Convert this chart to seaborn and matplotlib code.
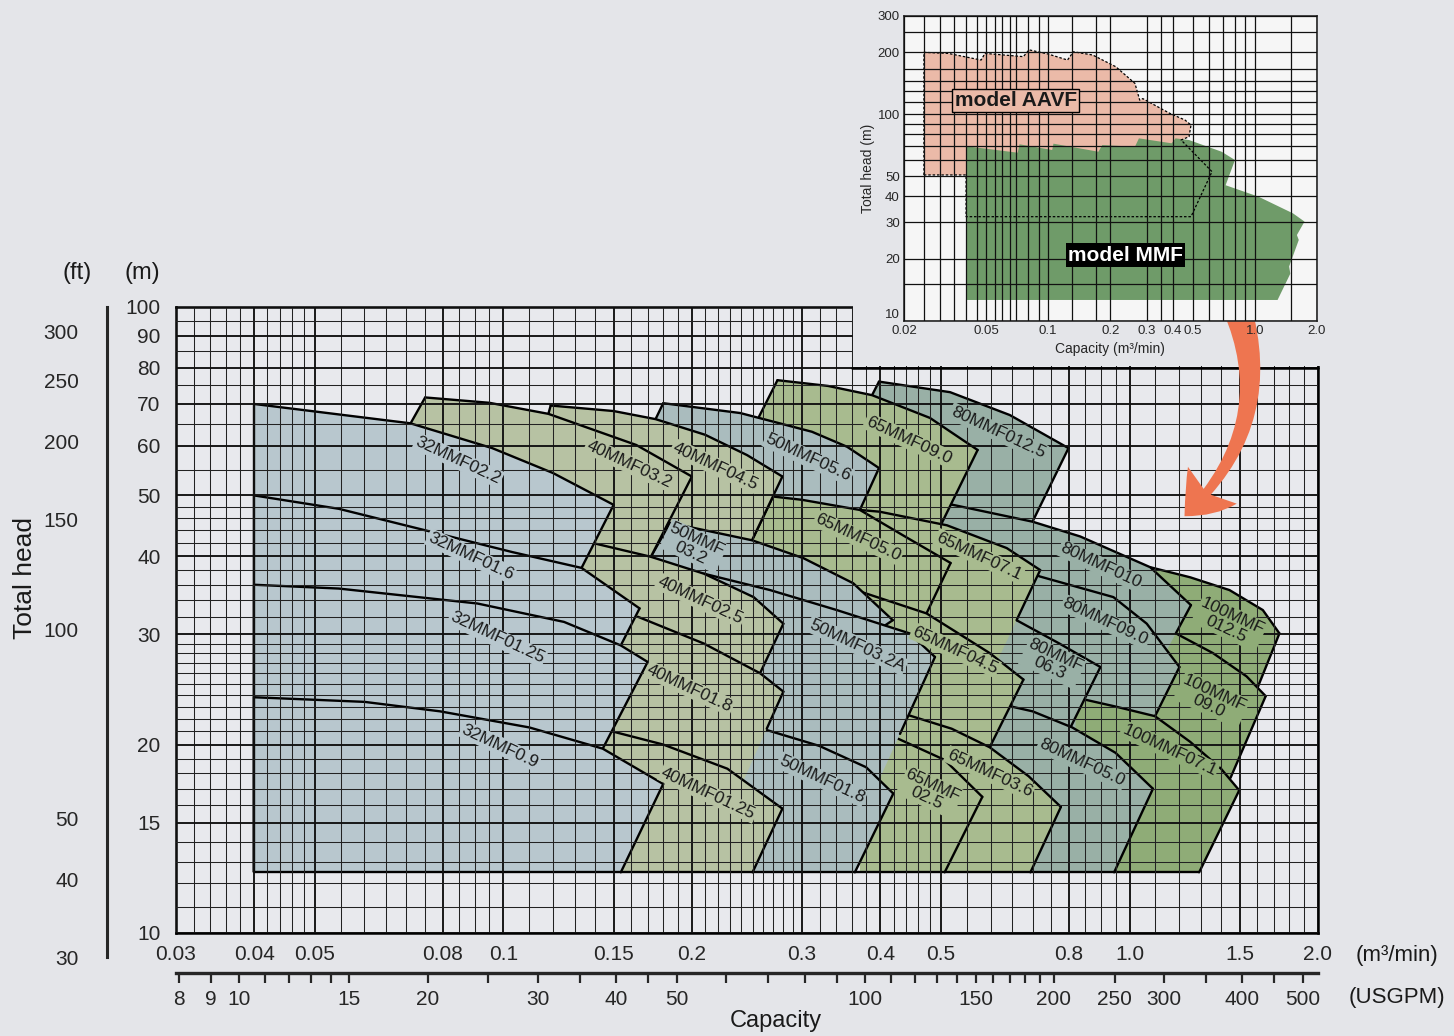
import numpy as np
import matplotlib
matplotlib.use("Agg")
import matplotlib.pyplot as plt
from matplotlib import font_manager as fm
from matplotlib.ticker import NullFormatter
from matplotlib.patches import Rectangle, FancyArrowPatch
import seaborn as sns

# ---------------- data ----------------
# main axis ticks
x_major = [0.03, 0.04, 0.05, 0.08, 0.1, 0.15, 0.2, 0.3, 0.4, 0.5, 0.8, 1.0, 1.5, 2.0]
x_major_txt = ["0.03", "0.04", "0.05", "0.08", "0.1", "0.15", "0.2", "0.3", "0.4", "0.5", "0.8", "1.0", "1.5", "2.0"]
y_major = [10, 15, 20, 30, 40, 50, 60, 70, 80, 90, 100]
gpm_major = [8, 9, 10, 15, 20, 30, 40, 50, 100, 150, 200, 250, 300, 400, 500]
gpm_minor = [11, 12, 13, 14, 25, 35, 45, 60, 70, 80, 90, 110, 120, 130, 140, 160, 170, 180, 190, 350, 450]
ft_major = [30, 40, 50, 100, 150, 200, 250, 300]
ft_minor = [60, 70, 80, 90, 110, 120, 130, 140] + list(range(155, 200, 5)) + list(range(205, 250, 5)) \
    + list(range(255, 300, 5)) + [305, 310, 315, 320, 325]

# column colours
C32, C40, C50 = "#b8c7ce", "#b7c2a3", "#aabcbe"
C65, C80, C100 = "#a8bb8f", "#99b0a6", "#8fac77"

BASE = 12.5  # bottom head of all ranges (m)

# each model: top curve (q in m3/min, h in m), left/right edge feet, label position
m100_125 = dict(name="100MMF\n012.5", c=C100, q=[1.079, 1.25, 1.4446, 1.6328, 1.7355], h=[38.4, 37.0, 35.3, 32.8, 30.1],
                left=None, right=(1.60, 24.6), at=(1.4446, 31.3))
m80_125 = dict(name="80MMF012.5", c=C80, q=[0.398, 0.517, 0.644, 0.799], h=[76.0, 73.1, 67.2, 59.5],
               left=(0.388, 72.3), right=(0.70, 45.4), at=(0.6164, 63.1))
m100_90 = dict(name="100MMF\n09.0", c=C100, q=[1.10, 1.186, 1.359, 1.538, 1.65], h=[31.2, 30.1, 28.0, 25.7, 23.9],
               left=None, right=(1.45, 17.7), at=(1.3532, 23.6))
m80_10 = dict(name="80MMF010", c=C80, q=[0.45, 0.5224, 0.70, 0.834, 1.079, 1.2535], h=[49.5, 48.3, 45.4, 43.0, 38.4, 33.4],
              left=None, right=(1.1856, 30.1), at=(0.8985, 38.6))
m65_90 = dict(name="65MMF09.0", c=C65, q=[0.274, 0.33, 0.388, 0.48, 0.572], h=[76.4, 74.8, 72.3, 66.5, 59.1],
              left=(0.256, 66.8), right=(0.501, 45.1), at=(0.4437, 61.3))
m80_90 = dict(name="80MMF09.0", c=C80, q=[0.66, 0.72, 0.9425, 1.0654, 1.2015], h=[38.3, 37.1, 34.4, 31.2, 26.6],
              left=None, right=(1.0984, 22.2), at=(0.9152, 31.4))
m100_71 = dict(name="100MMF07.1", c=C100, q=[0.82, 0.848, 0.95, 1.098, 1.25, 1.40, 1.497],
               h=[23.8, 23.6, 23.0, 22.2, 20.2, 18.3, 16.9], left=None, right=(1.2918, BASE), at=(1.1581, 19.6))
m80_63 = dict(name="80MMF\n06.3", c=C80, q=[0.62, 0.66, 0.7727, 0.8985], h=[32.3, 31.6, 29.0, 26.6],
              left=None, right=(0.8067, 21.4), at=(0.7533, 27.1))
m80_50 = dict(name="80MMF05.0", c=C80, q=[0.60, 0.70, 0.81, 0.95, 1.09], h=[23.4, 22.6, 21.3, 19.4, 17.0],
              left=None, right=(0.945, BASE), at=(0.8384, 18.7))
m50_56 = dict(name="50MMF05.6", c=C50, q=[0.18, 0.239, 0.311, 0.354, 0.398], h=[70.2, 67.7, 63.2, 59.8, 55.3],
              left=(0.175, 66.2), right=(0.371, 47.4), at=(0.3068, 57.4))
m65_71 = dict(name="65MMF07.1", c=C65, q=[0.371, 0.3988, 0.511, 0.6366, 0.72], h=[47.4, 47.1, 44.8, 41.2, 38.0],
              left=None, right=(0.6601, 31.6), at=(0.5754, 40.0))
m65_50 = dict(name="65MMF05.0", c=C65, q=[0.2696, 0.30, 0.371, 0.4378, 0.5179], h=[49.8, 49.2, 47.4, 43.0, 39.0],
              left=(0.2495, 42.4), right=(0.474, 32.4), at=(0.3686, 42.8))
m65_45 = dict(name="65MMF04.5", c=C65, q=[0.375, 0.474, 0.598, 0.677], h=[35.0, 32.4, 28.0, 25.4],
              left=None, right=(0.598, 19.8), at=(0.5266, 28.3))
m65_36 = dict(name="65MMF03.6", c=C65, q=[0.43, 0.52, 0.598, 0.69, 0.777], h=[22.5, 21.2, 19.8, 17.8, 15.9],
              left=None, right=(0.6946, BASE), at=(0.5978, 18.0))
m65_25 = dict(name="65MMF\n02.5", c=C65, q=[0.40, 0.4195, 0.5067, 0.582], h=[21.0, 20.6, 18.9, 16.5],
              left=None, right=(0.5067, BASE), at=(0.4801, 16.8))
m40_45 = dict(name="40MMF04.5", c=C40, q=[0.119, 0.15, 0.175, 0.21, 0.245, 0.279], h=[69.6, 68.2, 66.2, 62.5, 58.0, 53.6],
              left=(0.118, 67.5), right=(0.2495, 42.4), at=(0.2179, 55.7))
m50_32 = dict(name="50MMF\n03.2", c=C50, q=[0.1846, 0.2495, 0.3014, 0.362, 0.4187], h=[45.2, 42.4, 39.7, 36.2, 31.6],
              left=(0.172, 39.9), right=(0.405, 30.9), at=(0.2014, 41.5))
m50_32a = dict(name="50MMF03.2A", c=C50, q=[0.209, 0.2667, 0.3408, 0.4456, 0.489], h=[37.5, 35.3, 32.8, 30.1, 27.6],
               left=None, right=(0.43, 20.8), at=(0.3673, 28.8))
m50_18 = dict(name="50MMF01.8", c=C50, q=[0.24, 0.2633, 0.3196, 0.3796, 0.4195], h=[21.6, 21.1, 19.9, 18.4, 16.7],
              left=None, right=(0.3642, BASE), at=(0.3223, 17.6))
m40_32 = dict(name="40MMF03.2", c=C40, q=[0.075, 0.095, 0.118, 0.163, 0.2], h=[71.7, 70.3, 67.5, 60.2, 53.6],
              left=(0.0711, 65.2), right=(0.172, 39.9), at=(0.1587, 56.1))
m40_25 = dict(name="40MMF02.5", c=C40, q=[0.14, 0.172, 0.209, 0.251, 0.28], h=[41.9, 39.9, 37.5, 34.4, 31.2],
              left=None, right=(0.257, 26.0), at=(0.2062, 34.0))
m40_18 = dict(name="40MMF01.8", c=C40, q=[0.164, 0.209, 0.257, 0.28], h=[32.0, 29.0, 26.0, 24.3],
              left=None, right=(0.2634, 21.2), at=(0.1982, 24.6))
m40_125 = dict(name="40MMF01.25", c=C40, q=[0.149, 0.18, 0.2279, 0.279], h=[21.0, 20.0, 18.3, 15.8],
               left=None, right=(0.25, BASE), at=(0.2123, 16.7))
m32_22 = dict(name="32MMF02.2", c=C32, q=[0.04, 0.071, 0.096, 0.12, 0.15], h=[70, 65.2, 59.5, 54.3, 48.3],
              left=(0.04, BASE), right=(0.1333, 38.3), at=(0.0847, 56.9))
m32_16 = dict(name="32MMF01.6", c=C32, q=[0.04, 0.0546, 0.0763, 0.1033, 0.1333, 0.165], h=[50, 47.6, 43.8, 40.6, 38.3, 33.0],
              left=(0.04, BASE), right=(0.154, 28.8), at=(0.0887, 40.0))
m32_125 = dict(name="32MMF01.25", c=C32, q=[0.04, 0.0546, 0.0909, 0.125, 0.154, 0.17], h=[36, 35.5, 33.6, 31.4, 28.8, 27.1],
               left=(0.04, BASE), right=(0.1441, 19.7), at=(0.0977, 29.6))
m32_09 = dict(name="32MMF0.9", c=C32, q=[0.04, 0.06, 0.0792, 0.11, 0.1441, 0.18], h=[23.8, 23.4, 22.6, 21.3, 19.7, 17.3],
              left=(0.04, BASE), right=(0.154, BASE), at=(0.0988, 19.9))

# painting order: regions drawn later cover the hidden parts of earlier ones
draw_order = [m100_125, m80_125, m100_90, m80_10, m65_90, m80_90, m100_71, m80_63, m80_50,
              m50_56, m65_71, m65_50, m65_45, m65_36, m65_25, m40_45, m50_32, m50_32a, m50_18,
              m40_32, m40_25, m40_18, m40_125, m32_22, m32_16, m32_125, m32_09]

# inset (overview of the two model ranges)
aavf_q = [0.025, 0.025, 0.0328, 0.0473, 0.0494, 0.0758, 0.0807, 0.1, 0.124, 0.1324, 0.1642, 0.2124, 0.263,
          0.2773, 0.287, 0.3875, 0.4596, 0.4914, 0.4805, 0.44, 0.621, 0.4914, 0.04, 0.04]
aavf_h = [50.8, 199.4, 197, 183, 197, 190, 205, 195.6, 183, 200.7, 193.5, 169.8, 141,
          117, 119, 101, 93.7, 88.6, 77.8, 75, 52.7, 31.9, 31.9, 50.8]
mmf_q = [0.04, 0.04, 0.0711, 0.0726, 0.1045, 0.106, 0.175, 0.1827, 0.263, 0.2749, 0.3958, 0.4134, 0.4805,
         0.6918, 0.8021, 0.7227, 1.0404, 1.532, 1.742, 1.60, 1.634, 1.467, 1.487, 1.29]
mmf_h = [12.6, 70, 65.1, 71.5, 67.1, 72, 65.8, 70.9, 69.6, 76.4, 72.3, 76.4, 75,
         65.8, 60, 45.3, 39.9, 33.1, 30.2, 26.0, 24.6, 18.3, 16.9, 12.6]
inset_xt = [0.02, 0.05, 0.1, 0.2, 0.3, 0.4, 0.5, 1.0, 2.0]
inset_xt_txt = ["0.02", "0.05", "0.1", "0.2", "0.3", "0.4", "0.5", "1.0", "2.0"]
inset_xgrid = [0.025, 0.03, 0.035, 0.04, 0.045, 0.055, 0.06, 0.065, 0.07, 0.08, 0.09, 0.13, 0.17,
               0.35, 0.6, 0.7, 0.8, 0.9, 1.5]
inset_yt = [10, 20, 30, 40, 50, 100, 200, 300]
inset_ygrid = [15, 60, 70, 80, 90, 115, 130, 145, 165, 250]

# ---------------- style ----------------
W, H = 1454, 1036
BG = "#e4e5e9"
sns.set_style("white")
names = {f.name for f in fm.fontManager.ttflist}
FONT = "Liberation Sans Narrow" if "Liberation Sans Narrow" in names else "Liberation Sans"
plt.rcParams["font.family"] = [FONT, "DejaVu Sans"]
plt.rcParams["text.color"] = "#1a1a1a"


def px(x, y):
    return x / W, 1 - y / H


def extend_to_base(p_end, p_foot):
    (x1, y1), (x2, y2) = np.log10(p_end), np.log10(p_foot)
    if y2 <= np.log10(BASE) + 1e-9:
        return p_foot
    t = (np.log10(BASE) - y1) / (y2 - y1)
    return (10 ** (x1 + t * (x2 - x1)), BASE)


fig = plt.figure(figsize=(W / 100, H / 100), dpi=100, facecolor=BG)
ax = fig.add_axes([176 / W, 1 - 933 / H, (1318 - 176) / W, (933 - 307) / H])
ax.set_facecolor("#e8e9ed")
ax.set_xscale("log")
ax.set_yscale("log")

LW = 1.7
for i, m in enumerate(draw_order):
    z = 1 + i * 0.03
    q, h = m["q"], m["h"]
    lf = m["left"] or (q[0], h[0])
    rf = m["right"]
    rb = extend_to_base((q[-1], h[-1]), rf)
    verts = [(lf[0], BASE), lf] + list(zip(q, h)) + [rf, (max(rb[0], lf[0]), BASE)]
    ax.fill(*zip(*verts), color=m["c"], lw=0, zorder=z)
    sns.lineplot(x=q, y=h, ax=ax, color="k", lw=LW, sort=False, estimator=None, zorder=z + 0.01)
    ax.plot([q[-1], rf[0]], [h[-1], rf[1]], color="k", lw=LW, zorder=z + 0.01)
    if m["left"]:
        ax.plot([q[0], lf[0]], [h[0], lf[1]], color="k", lw=LW, zorder=z + 0.01)

q_end = max(m["right"][0] for m in draw_order if m["right"][1] == BASE)
ax.plot([0.04, q_end], [BASE, BASE], color="k", lw=LW, zorder=2)

for m in draw_order:
    ax.text(*m["at"], m["name"], rotation=-25, rotation_mode="anchor", ha="center", va="center",
            fontsize=12.5, linespacing=0.95, zorder=3, color="#1a1a1a",
            bbox=dict(boxstyle="square,pad=0.08", fc=m["c"], ec="none"))

# grid
x_minor = np.round(np.concatenate([np.arange(0.03, 0.05, 0.002), np.arange(0.05, 0.1, 0.005),
                                   np.arange(0.1, 0.3, 0.01), np.arange(0.3, 0.5, 0.02),
                                   np.arange(0.5, 1.0, 0.05), np.arange(1.0, 2.01, 0.1)]), 4)
y_minor = np.concatenate([np.arange(10, 30, 1), np.arange(30, 50, 2), np.arange(50, 101, 5)])
ax.set_xticks(x_major)
ax.set_xticklabels(x_major_txt)
ax.set_xticks(x_minor, minor=True)
ax.xaxis.set_minor_formatter(NullFormatter())
ax.set_yticks(y_major)
ax.set_yticklabels([str(v) for v in y_major])
ax.set_yticks(y_minor, minor=True)
ax.yaxis.set_minor_formatter(NullFormatter())
ax.set_xlim(0.03, 2.0)
ax.set_ylim(10, 100)
ax.tick_params(which="both", length=0)
ax.tick_params(axis="x", pad=9, labelsize=15)
ax.tick_params(axis="y", pad=11, labelsize=15)
ax.set_axisbelow(False)
ax.grid(which="major", color="#111111", lw=1.35)
ax.grid(which="minor", color="#222222", lw=0.75)
for s in ax.spines.values():
    s.set_linewidth(1.8)
    s.set_color("k")
ax.set_xlabel("")
ax.set_ylabel("")

# notch left free for the inset, with its lower border
ax.add_patch(Rectangle((0.362, 80.5), 3.0, 60, facecolor=BG, edgecolor="none", zorder=2.7, clip_on=False))
ax.plot([0.36, 2.0], [80, 80], color="k", lw=1.8, zorder=2.8, clip_on=False)

# arrow from the inset down to the chart
ax.add_patch(FancyArrowPatch((1.45, 106), (1.215, 46), connectionstyle="arc3,rad=-0.35",
                             arrowstyle="fancy,head_length=1.5,head_width=2.2,tail_width=1.1",
                             mutation_scale=20, color="#ee7550", lw=0, zorder=4, clip_on=False))

# USGPM scale
sec = ax.secondary_xaxis(-(973 - 933) / 626, functions=(lambda v: v * 264.172, lambda v: v / 264.172))
sec.set_xticks(gpm_major)
sec.set_xticklabels([str(v) for v in gpm_major])
sec.set_xticks(gpm_minor, minor=True)
sec.xaxis.set_minor_formatter(NullFormatter())
sec.tick_params(which="both", direction="out", length=7, width=1.6, labelsize=15, pad=5)
sec.spines["bottom"].set_linewidth(2.4)

# feet scale
axf = fig.add_axes([106.5 / W, 1 - 957.3 / H, 0.0001, (957.3 - 307) / H])
axf.set_yscale("log")
axf.set_ylim(30, 328.084)
axf.patch.set_visible(False)
for s in ["top", "right", "bottom"]:
    axf.spines[s].set_visible(False)
axf.spines["left"].set_linewidth(2.2)
axf.set_xticks([])
axf.set_yticks(ft_major)
axf.set_yticklabels([str(v) for v in ft_major])
axf.set_yticks(ft_minor, minor=True)
axf.yaxis.set_minor_formatter(NullFormatter())
axf.tick_params(which="major", length=8, width=1.8, labelsize=15, pad=12)
axf.tick_params(which="minor", length=6, width=1.4)

fig.text(*px(77, 273), "(ft)", ha="center", va="center", fontsize=17)
fig.text(*px(142, 273), "(m)", ha="center", va="center", fontsize=17)
fig.text(*px(25, 578), "Total head", rotation=90, ha="center", va="center", fontsize=19)
fig.text(*px(776, 1021), "Capacity", ha="center", va="center", fontsize=17)
fig.text(*px(1397, 955), "(m³/min)", ha="center", va="center", fontsize=16)
fig.text(*px(1397, 997), "(USGPM)", ha="center", va="center", fontsize=16)

# inset
axi = fig.add_axes([903.9 / W, 1 - 320.7 / H, (1316.9 - 903.9) / W, (320.7 - 15.7) / H])
axi.set_facecolor("#f6f6f6")
axi.set_xscale("log")
axi.set_yscale("log")
axi.fill(aavf_q, aavf_h, color="#ebbaa8", lw=0, zorder=1)
axi.fill(mmf_q, mmf_h, color="#6f9b69", lw=0, zorder=1.1)
axi.plot(aavf_q + aavf_q[:1], aavf_h + aavf_h[:1], color="k", lw=0.9, ls=(0, (2, 1.5)), zorder=1.2)
axi.set_xlim(0.02, 2.0)
axi.set_ylim(10, 300)
axi.set_xticks(inset_xt)
axi.set_xticklabels(inset_xt_txt)
axi.set_xticks(inset_xgrid, minor=True)
axi.xaxis.set_minor_formatter(NullFormatter())
axi.set_yticks(inset_yt)
axi.set_yticklabels([str(v) for v in inset_yt])
axi.set_yticks(inset_ygrid, minor=True)
axi.yaxis.set_minor_formatter(NullFormatter())
axi.tick_params(which="both", length=0, labelsize=9.5, pad=3)
axi.get_yticklabels()[0].set_verticalalignment("bottom")
axi.set_axisbelow(False)
axi.grid(which="both", color="#111111", lw=0.9)
for s in axi.spines.values():
    s.set_linewidth(1.2)
axi.set_xlabel("Capacity (m³/min)", fontsize=10, labelpad=4)
axi.set_ylabel("Total head (m)", fontsize=10, labelpad=2)
axi.text(0.0695, 117, "model AAVF", fontsize=15, fontweight="bold", ha="center", va="center", zorder=3,
         family=["Liberation Sans", "DejaVu Sans"],
         bbox=dict(boxstyle="square,pad=0.1", fc="#ebbaa8", ec="k", lw=1.0))
axi.text(0.2364, 20.8, "model MMF", fontsize=15, fontweight="bold", color="white", ha="center", va="center",
         zorder=3, family=["Liberation Sans", "DejaVu Sans"],
         bbox=dict(boxstyle="square,pad=0.1", fc="black", ec="none"))

fig.savefig("out.png", dpi=100, facecolor=BG)
